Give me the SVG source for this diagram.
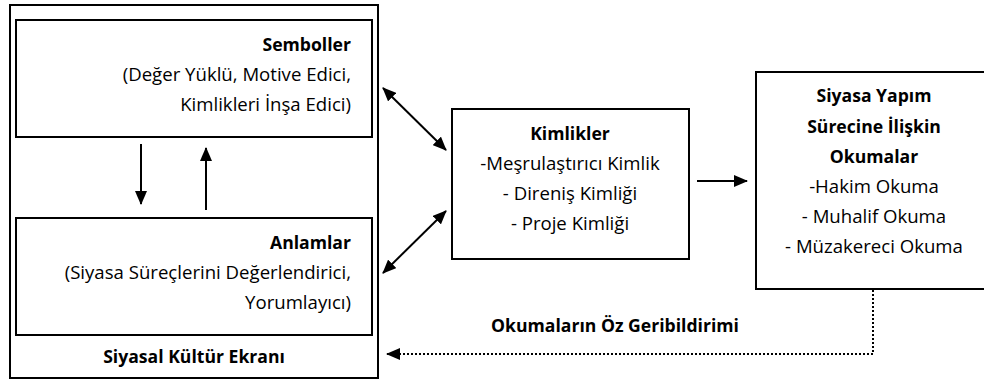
<svg xmlns="http://www.w3.org/2000/svg" width="984" height="383" viewBox="0 0 984 383">
<defs>
<style>
.box{fill:#fff;stroke:#000;stroke-width:2}
.t{font-family:"Open Sans","Noto Sans","DejaVu Sans",sans-serif;font-size:18.6px;fill:#000}
.b{font-weight:bold;font-size:17.6px}
.ln{stroke:#000;stroke-width:2;fill:none}
.dot{stroke:#000;stroke-width:2;fill:none;stroke-dasharray:2 2}
</style>
<marker id="ah" viewBox="0 0 14 12" refX="13" refY="6" markerWidth="14" markerHeight="12" markerUnits="userSpaceOnUse" orient="auto-start-reverse">
<path d="M0,0 L14,6 L0,12 Z" fill="#000"/>
</marker>
</defs>
<g id="ekran">
<rect class="box" x="10" y="5" width="368" height="373"/>
<text class="t b" x="194" y="363" text-anchor="middle">Siyasal Kültür Ekranı</text>
</g>
<g id="semboller">
<rect class="box" x="16" y="20" width="356" height="117"/>
<text class="t" text-anchor="end"><tspan class="b" x="351" y="51">Semboller</tspan><tspan x="351" y="81">(Değer Yüklü, Motive Edici,</tspan><tspan x="351" y="111">Kimlikleri İnşa Edici)</tspan></text>
</g>
<g id="anlamlar">
<rect class="box" x="16" y="218" width="356" height="117"/>
<text class="t" text-anchor="end"><tspan class="b" x="351" y="249">Anlamlar</tspan><tspan x="351" y="279">(Siyasa Süreçlerini Değerlendirici,</tspan><tspan x="351" y="309">Yorumlayıcı)</tspan></text>
</g>
<g id="kimlikler">
<rect class="box" x="452" y="109" width="237" height="150"/>
<text class="t" text-anchor="middle"><tspan class="b" x="570" y="140">Kimlikler</tspan><tspan x="570" y="170">-Meşrulaştırıcı Kimlik</tspan><tspan x="570" y="200">- Direniş Kimliği</tspan><tspan x="570" y="230">- Proje Kimliği</tspan></text>
</g>
<g id="okumalar">
<rect class="box" x="756" y="72" width="240" height="217"/>
<text class="t" text-anchor="middle"><tspan class="b" x="874" y="102">Siyasa Yapım</tspan><tspan class="b" x="874" y="133">Sürecine İlişkin</tspan><tspan class="b" x="874" y="163">Okumalar</tspan><tspan x="874" y="193">-Hakim Okuma</tspan><tspan x="874" y="223">- Muhalif Okuma</tspan><tspan x="874" y="253">- Müzakereci Okuma</tspan></text>
</g>
<g id="connectors">
<line class="ln" x1="141" y1="144" x2="141" y2="204" marker-end="url(#ah)"/>
<line class="ln" x1="206" y1="210" x2="206" y2="148" marker-end="url(#ah)"/>
<line class="ln" x1="383" y1="88" x2="446" y2="150" marker-start="url(#ah)" marker-end="url(#ah)"/>
<line class="ln" x1="446" y1="211" x2="383" y2="273" marker-start="url(#ah)" marker-end="url(#ah)"/>
<line class="ln" x1="697" y1="181" x2="747" y2="181" marker-end="url(#ah)"/>
<polyline class="dot" points="873,290 873,354 387,354" marker-end="url(#ah)"/>
<text class="t b" x="615" y="332" text-anchor="middle">Okumaların Öz Geribildirimi</text>
</g>
</svg>
